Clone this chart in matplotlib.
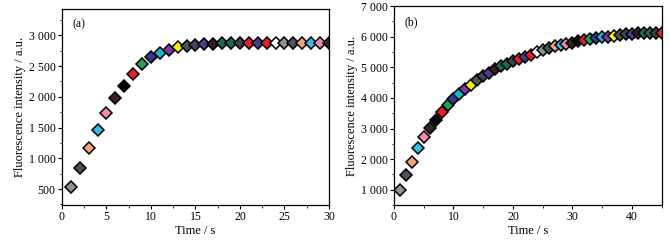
import matplotlib
matplotlib.use("Agg")
import matplotlib.pyplot as plt
from matplotlib.ticker import MultipleLocator

plt.rcParams['font.family'] = ['Liberation Serif', 'DejaVu Serif']
plt.rcParams['font.size'] = 8

# Data
time_a = list(range(1, 31))
intensity_a = [530, 845, 1167, 1468, 1731, 1978, 2177, 2371, 2538, 2645,
               2715, 2769, 2806, 2833, 2849, 2852, 2866, 2868, 2870, 2870,
               2870, 2870, 2870, 2870, 2870, 2870, 2870, 2870, 2870, 2870]

time_b = list(range(1, 46))
intensity_b = [1000, 1473, 1914, 2366, 2729, 3015, 3280, 3533, 3753, 3952,
               4128, 4300, 4437, 4580, 4700, 4810, 4930, 5030, 5120, 5207,
               5284, 5350, 5416, 5515, 5570, 5625, 5680, 5725, 5770, 5800,
               5845, 5880, 5910, 5945, 5980, 6000, 6030, 6055, 6075, 6100,
               6110, 6120, 6120, 6130, 6130]

yticks_a = [500, 1000, 1500, 2000, 2500, 3000]
yticklabels_a = ['500', '1 000', '1 500', '2 000', '2 500', '3 000']
yticks_b = [1000, 2000, 3000, 4000, 5000, 6000, 7000]
yticklabels_b = ['1 000', '2 000', '3 000', '4 000', '5 000', '6 000', '7 000']

palette = ['#8b9399', '#4b5459', '#f4a37c', '#3fb8e6', '#ef8bab', '#3b2229',
           '#050505', '#e5222b', '#1ea354', '#2e3b98', '#22b2c9', '#7b3ba3',
           '#f3ea1f', '#4b5a49', '#3f4559', '#4d3c8c', '#3b1b1f', '#1e6b4b',
           '#1b6b5b', '#3c4254', '#e5222b', '#4b3c90', '#e5222b', '#ffffff']

fig = plt.figure(figsize=(6.70, 2.41), dpi=100)
ax1 = fig.add_axes([0.0925, 0.149, 0.3985, 0.814])
ax2 = fig.add_axes([0.588, 0.149, 0.3996, 0.826])


def draw(ax, xs, ys):
    for i, (x, y) in enumerate(zip(xs, ys)):
        ax.plot(x, y, marker='D', markersize=5.8, markerfacecolor=palette[i % len(palette)],
                markeredgecolor='black', markeredgewidth=1.1, linestyle='none', clip_on=True,
                zorder=3)


draw(ax1, time_a, intensity_a)
draw(ax2, time_b, intensity_b)

ax1.set_xlim(0, 30)
ax1.set_ylim(240, 3430)
ax1.set_yticks(yticks_a)
ax1.set_yticklabels(yticklabels_a)
ax1.xaxis.set_major_locator(MultipleLocator(5))
ax1.xaxis.set_minor_locator(MultipleLocator(2.5))
ax1.yaxis.set_minor_locator(MultipleLocator(250))

ax2.set_xlim(0, 45)
ax2.set_ylim(500, 7000)
ax2.set_yticks(yticks_b)
ax2.set_yticklabels(yticklabels_b)
ax2.xaxis.set_major_locator(MultipleLocator(10))
ax2.xaxis.set_minor_locator(MultipleLocator(5))
ax2.yaxis.set_minor_locator(MultipleLocator(500))

for ax, lab in ((ax1, '(a)'), (ax2, '(b)')):
    ax.set_xlabel('Time / s', fontsize=9, labelpad=1.5)
    ax.set_ylabel('Fluorescence intensity / a.u.', fontsize=9, labelpad=2)
    ax.tick_params(which='major', direction='out', length=3, width=0.8, labelsize=8.5, pad=1.5)
    ax.tick_params(which='minor', direction='out', length=1.8, width=0.6)
    for s in ax.spines.values():
        s.set_linewidth(0.9)
        s.set_zorder(4)
    ax.text(0.04, 0.95, lab, transform=ax.transAxes, ha='left', va='top', fontsize=8.5)

fig.savefig('out.png', dpi=100)
